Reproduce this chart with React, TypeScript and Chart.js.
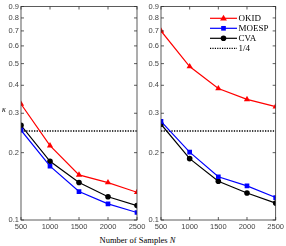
import React, { useEffect, useRef } from "react";
import { Chart, registerables } from "chart.js";

Chart.register(...registerables);

const sampleSizes = [500, 1000, 1500, 2000, 2500];
const yTicks = [0.1, 0.2, 0.3, 0.4, 0.5, 0.6, 0.7, 0.8, 0.9];
const quarterLevel = 0.25;

// Left panel
const okidLeft = [0.33, 0.215, 0.159, 0.147, 0.133];
const moespLeft = [0.252, 0.174, 0.134, 0.118, 0.108];
const cvaLeft = [0.265, 0.183, 0.147, 0.127, 0.116];

// Right panel
const okidRight = [0.70, 0.485, 0.387, 0.346, 0.321];
const moespRight = [0.276, 0.201, 0.156, 0.142, 0.126];
const cvaRight = [0.268, 0.188, 0.149, 0.132, 0.119];

const legendLabels = ["OKID", "MOESP", "CVA", "1/4"];
const seriesColors = ["#ff0000", "#0000ff", "#000000"];
const seriesMarkers = ["triangle", "rect", "circle"];
const markerRadius = [3.6, 3.3, 2.8];

function pts(vals: number[]) {
  return sampleSizes.map((x, i) => ({ x, y: vals[i] }));
}

function drawMarker(ctx: CanvasRenderingContext2D, style: string, x: number, y: number, r: number, color: string) {
  ctx.save();
  ctx.fillStyle = color;
  ctx.beginPath();
  if (style === "triangle") {
    ctx.moveTo(x, y - r);
    ctx.lineTo(x + r * 0.95, y + r * 0.6);
    ctx.lineTo(x - r * 0.95, y + r * 0.6);
    ctx.closePath();
  } else if (style === "rect") {
    const s = r * Math.SQRT1_2;
    ctx.rect(x - s, y - s, 2 * s, 2 * s);
  } else {
    ctx.arc(x, y, r, 0, Math.PI * 2);
  }
  ctx.fill();
  ctx.restore();
}

const boxPlugin = {
  id: "boxTicks",
  afterDraw(chart: any) {
    const { ctx, chartArea } = chart;
    const xs = chart.scales.x;
    const ys = chart.scales.y;
    ctx.save();
    ctx.strokeStyle = "#333333";
    ctx.lineWidth = 0.8;
    ctx.strokeRect(chartArea.left, chartArea.top, chartArea.right - chartArea.left, chartArea.bottom - chartArea.top);
    const tl = 3;
    ctx.beginPath();
    sampleSizes.forEach((v) => {
      const px = xs.getPixelForValue(v);
      ctx.moveTo(px, chartArea.bottom);
      ctx.lineTo(px, chartArea.bottom - tl);
      ctx.moveTo(px, chartArea.top);
      ctx.lineTo(px, chartArea.top + tl);
    });
    yTicks.forEach((v) => {
      const py = ys.getPixelForValue(v);
      ctx.moveTo(chartArea.left, py);
      ctx.lineTo(chartArea.left + tl, py);
      ctx.moveTo(chartArea.right, py);
      ctx.lineTo(chartArea.right - tl, py);
    });
    ctx.stroke();
    ctx.restore();
  },
};

const legendPlugin = {
  id: "customLegend",
  afterDraw(chart: any) {
    if (!chart.options.plugins.customLegend || !chart.options.plugins.customLegend.show) return;
    const { ctx } = chart;
    const x0 = 80;
    const x1 = 107;
    const ys = [18.3, 28.3, 38.3, 48.3];
    ctx.save();
    ctx.font = "9px 'Liberation Serif', 'Times New Roman', serif";
    ctx.textBaseline = "middle";
    ctx.textAlign = "left";
    legendLabels.forEach((label, i) => {
      const y = ys[i];
      ctx.beginPath();
      if (i < 3) {
        ctx.strokeStyle = seriesColors[i];
        ctx.lineWidth = 1.2;
        ctx.setLineDash([]);
      } else {
        ctx.strokeStyle = "#000000";
        ctx.lineWidth = 1.2;
        ctx.setLineDash([1.2, 1.2]);
      }
      ctx.moveTo(x0, y);
      ctx.lineTo(x1, y);
      ctx.stroke();
      ctx.setLineDash([]);
      if (i < 3) drawMarker(ctx, seriesMarkers[i], (x0 + x1) / 2, y, markerRadius[i], seriesColors[i]);
      ctx.fillStyle = "#000000";
      ctx.fillText(label, x1 + 1.5, y + 0.5);
    });
    ctx.restore();
  },
};

function makeConfig(okid: number[], moesp: number[], cva: number[], yWidth: number, padRight: number, showLegend: boolean) {
  const all = [okid, moesp, cva];
  const datasets: any[] = all.map((vals, i) => ({
    label: legendLabels[i],
    data: pts(vals),
    borderColor: seriesColors[i],
    backgroundColor: seriesColors[i],
    borderWidth: 1.2,
    pointStyle: seriesMarkers[i],
    pointRadius: markerRadius[i],
    pointBorderWidth: 0,
    tension: 0,
  }));
  datasets.push({
    label: legendLabels[3],
    data: [
      { x: sampleSizes[0], y: quarterLevel },
      { x: sampleSizes[sampleSizes.length - 1], y: quarterLevel },
    ],
    borderColor: "#000000",
    borderWidth: 1.4,
    borderDash: [1.3, 1.3],
    pointRadius: 0,
  });
  const tickFont = { family: "'Liberation Sans', Arial, sans-serif", size: 7.5 };
  return {
    type: "line" as const,
    data: { datasets },
    plugins: [boxPlugin, legendPlugin],
    options: {
      animation: false as const,
      responsive: false,
      devicePixelRatio: 1,
      layout: { padding: { top: 6, right: padRight, left: 0, bottom: 0 } },
      plugins: {
        legend: { display: false },
        tooltip: { enabled: false },
        customLegend: { show: showLegend },
      },
      scales: {
        x: {
          type: "linear" as const,
          min: 500,
          max: 2500,
          grid: { display: false, drawTicks: false, tickLength: 0 },
          border: { display: false },
          afterBuildTicks: (scale: any) => {
            scale.ticks = sampleSizes.map((v) => ({ value: v }));
          },
          afterFit: (scale: any) => {
            scale.height = 14;
          },
          ticks: {
            font: tickFont,
            color: "#444444",
            padding: 2,
            maxRotation: 0,
            autoSkip: false,
            callback: (v: any) => String(v),
          },
        },
        y: {
          type: "logarithmic" as const,
          min: 0.1,
          max: 0.9,
          grid: { display: false, drawTicks: false, tickLength: 0 },
          border: { display: false },
          afterBuildTicks: (scale: any) => {
            scale.ticks = yTicks.map((v) => ({ value: v }));
          },
          afterFit: (scale: any) => {
            scale.width = yWidth;
          },
          ticks: {
            font: tickFont,
            color: "#444444",
            padding: 2,
            autoSkip: false,
            callback: (v: any) => Number(v).toFixed(1),
          },
        },
      },
    },
  };
}

export default function App() {
  const leftRef = useRef<HTMLCanvasElement>(null);
  const rightRef = useRef<HTMLCanvasElement>(null);

  useEffect(() => {
    const c1 = new Chart(leftRef.current as HTMLCanvasElement, makeConfig(okidLeft, moespLeft, cvaLeft, 21, 28, false) as any);
    const c2 = new Chart(rightRef.current as HTMLCanvasElement, makeConfig(okidRight, moespRight, cvaRight, 31, 10, true) as any);
    return () => {
      c1.destroy();
      c2.destroy();
    };
  }, []);

  return (
    <div style={{ position: "absolute", left: 0, top: 0, width: 286, height: 246, background: "#ffffff", overflow: "hidden" }}>
      <canvas ref={leftRef} width={165} height={234} style={{ position: "absolute", left: 0, top: 0 }} />
      <canvas ref={rightRef} width={156} height={234} style={{ position: "absolute", left: 130, top: 0 }} />
      <div
        style={{
          position: "absolute",
          left: 0,
          top: 104,
          width: 8,
          textAlign: "center",
          fontFamily: "'Liberation Serif', 'Times New Roman', serif",
          fontSize: 8,
          lineHeight: "12px",
          fontStyle: "italic",
        }}
      >
        κ
      </div>
      <div
        style={{
          position: "absolute",
          left: 60,
          top: 234,
          width: 155,
          textAlign: "center",
          fontFamily: "'Liberation Serif', 'Times New Roman', serif",
          fontSize: 8.5,
          lineHeight: "12px",
          whiteSpace: "nowrap",
        }}
      >
        Number of Samples <span style={{ fontStyle: "italic" }}>N</span>
      </div>
    </div>
  );
}
